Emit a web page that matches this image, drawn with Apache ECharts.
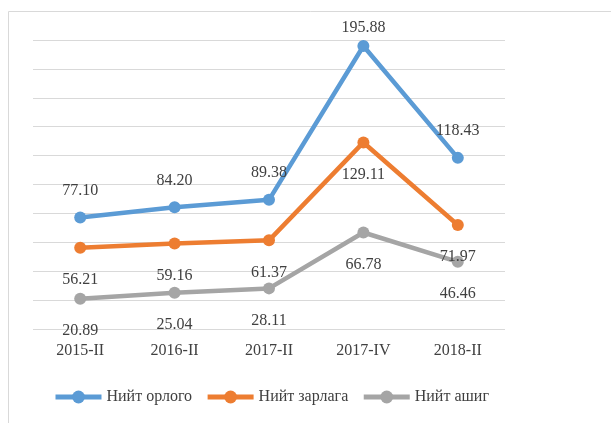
<!DOCTYPE html>
<html>
<head>
<meta charset="utf-8">
<script src="https://cdn.jsdelivr.net/npm/echarts@6/dist/echarts.min.js"></script>
<style>html,body{margin:0;padding:0;background:#fff}#c{width:611px;height:423px}</style>
</head>
<body>
<div id="c"></div>
<script>
var categories = ['2015-II', '2016-II', '2017-II', '2017-IV', '2018-II'];
var seriesNames = ['Нийт орлого', 'Нийт зарлага', 'Нийт ашиг'];
var income = [77.10, 84.20, 89.38, 195.88, 118.43];
var expense = [56.21, 59.16, 61.37, 129.11, 71.97];
var profit = [20.89, 25.04, 28.11, 66.78, 46.46];
var colors = ['#5B9BD5', '#ED7D31', '#A5A5A5'];
var FONT = 'Liberation Serif';
var TXT = '#404040';

var chart = echarts.init(document.getElementById('c'), null, {renderer: 'canvas'});

function mk(name, data, color, offY, special) {
  return {
    name: name,
    type: 'line',
    data: data.map(function (v, i) {
      var d = {value: v};
      if (special && special[i] !== undefined) d.label = {offset: [0, special[i]]};
      return d;
    }),
    symbol: 'circle',
    symbolSize: 12,
    lineStyle: {width: 4.5, color: color},
    itemStyle: {color: color},
    label: {
      show: true,
      position: 'inside',
      offset: [0, offY],
      formatter: function (p) { return p.value.toFixed(2); },
      fontFamily: FONT,
      fontSize: 16,
      color: TXT
    },
    emphasis: {disabled: true},
    animation: false
  };
}

chart.setOption({
  animation: false,
  color: colors,
  graphic: [{
    type: 'rect',
    shape: {x: 8.5, y: 11.5, width: 800, height: 600},
    style: {fill: 'none', stroke: '#D9D9D9', lineWidth: 1},
    silent: true
  }],
  grid: {left: 33, right: 106, top: 40, bottom: 94, containLabel: false},
  xAxis: {
    type: 'category',
    data: categories,
    boundaryGap: true,
    axisLine: {show: false},
    axisTick: {show: false},
    axisLabel: {fontFamily: FONT, fontSize: 16, color: TXT, margin: 14}
  },
  yAxis: {
    type: 'value',
    min: 0, max: 200, interval: 20,
    axisLabel: {show: false},
    axisLine: {show: false},
    axisTick: {show: false},
    splitLine: {lineStyle: {color: '#D9D9D9', width: 1.2}}
  },
  legend: {
    left: 48, top: 384,
    itemWidth: 46, itemHeight: 16,
    itemGap: 13,
    lineStyle: {width: 5},
    textStyle: {fontFamily: FONT, fontSize: 16, color: TXT},
    data: seriesNames
  },
  series: [
    mk(seriesNames[0], income, colors[0], -27, {3: -18}),
    mk(seriesNames[1], expense, colors[1], 32),
    mk(seriesNames[2], profit, colors[2], 32)
  ]
});
</script>
</body>
</html>
